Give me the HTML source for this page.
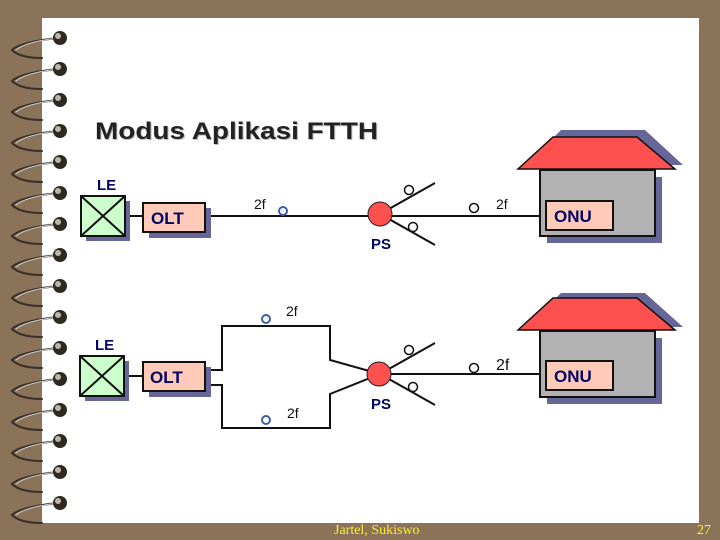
<!DOCTYPE html>
<html><head><meta charset="utf-8"><style>
body{margin:0;width:720px;height:540px;overflow:hidden;background:#8b7359;}
svg{display:block}
</style></head><body>
<svg width="720" height="540" xmlns="http://www.w3.org/2000/svg" font-family="Liberation Sans, sans-serif">
<rect x="0" y="0" width="720" height="540" fill="#8b7359"/>
<rect x="42" y="18" width="657" height="505" fill="#ffffff"/>
<g stroke-linecap="round">
<g id="r">
<path d="M58 38 Q20 42 12 50 Q20 58 42 58" fill="none" stroke="#3a3028" stroke-width="2"/>
<path d="M58 38 Q25 42 16 50" fill="none" stroke="#cfcfcf" stroke-width="1"/>
<circle cx="60" cy="38" r="7" fill="#2e2a22"/>
<circle cx="58" cy="36" r="3" fill="#bbb8a8"/>
</g>
<use href="#r" y="31"/><use href="#r" y="62"/><use href="#r" y="93"/><use href="#r" y="124"/>
<use href="#r" y="155"/><use href="#r" y="186"/><use href="#r" y="217"/><use href="#r" y="248"/>
<use href="#r" y="279"/><use href="#r" y="310"/><use href="#r" y="341"/><use href="#r" y="372"/>
<use href="#r" y="403"/><use href="#r" y="434"/><use href="#r" y="465"/>
</g>

<text x="96" y="140" font-size="24" font-weight="bold" fill="#888" opacity="0.6" textLength="283" lengthAdjust="spacingAndGlyphs">Modus Aplikasi FTTH</text>
<text x="95" y="139" font-size="24" font-weight="bold" fill="#222" textLength="283" lengthAdjust="spacingAndGlyphs">Modus Aplikasi FTTH</text>

<!-- Upper diagram -->
<g stroke="#111" stroke-width="2" fill="none">
<line x1="125" y1="216" x2="143" y2="216"/>
<line x1="205" y1="216" x2="545" y2="216"/>
<line x1="380" y1="214" x2="435" y2="183"/>
<line x1="380" y1="214" x2="435" y2="245"/>
</g>
<rect x="86" y="201" width="44" height="40" fill="#666699"/>
<rect x="81" y="196" width="44" height="40" fill="#ccffcc" stroke="#111" stroke-width="2"/>
<path d="M81 196 L125 236 M125 196 L81 236" stroke="#111" stroke-width="2"/>
<text x="97" y="190" font-size="15" font-weight="bold" fill="#000066">LE</text>
<rect x="149" y="208" width="62" height="30" fill="#666699"/>
<rect x="143" y="203" width="62" height="29" fill="#ffcbb8" stroke="#111" stroke-width="2"/>
<text x="151" y="224" font-size="17" font-weight="bold" fill="#000066">OLT</text>
<text x="254" y="209" font-size="14" fill="#111">2f</text>
<circle cx="283" cy="211" r="4" fill="#fff" stroke="#3a5fa8" stroke-width="2"/>
<circle cx="380" cy="214" r="12" fill="#ff5050" stroke="#222" stroke-width="1"/>
<circle cx="409" cy="190" r="4.5" fill="#fff" stroke="#111" stroke-width="1.5"/>
<circle cx="413" cy="227" r="4.5" fill="#fff" stroke="#111" stroke-width="1.5"/>
<circle cx="474" cy="208" r="4.5" fill="#fff" stroke="#111" stroke-width="1.5"/>
<text x="496" y="209" font-size="14" fill="#111">2f</text>
<text x="371" y="249" font-size="15" font-weight="bold" fill="#000066">PS</text>
<polygon points="561,130 645,130 683,165 526,165" fill="#666699"/>
<polygon points="553,137 637,137 675,169 518,169" fill="#ff5050" stroke="#111" stroke-width="1.5"/>
<rect x="547" y="177" width="115" height="66" fill="#666699"/>
<rect x="540" y="170" width="115" height="66" fill="#b2b2b2" stroke="#111" stroke-width="2"/>
<rect x="546" y="201" width="67" height="29" fill="#ffcbb8" stroke="#111" stroke-width="2"/>
<text x="554" y="222" font-size="17" font-weight="bold" fill="#000066">ONU</text>

<!-- Lower diagram -->
<g stroke="#111" stroke-width="2" fill="none">
<line x1="124" y1="376" x2="143" y2="376"/>
<polyline points="205,370 222,370 222,326 330,326 330,360 380,374"/>
<polyline points="205,385 222,385 222,428 330,428 330,394 380,374"/>
<line x1="380" y1="374" x2="545" y2="374"/>
<line x1="380" y1="374" x2="435" y2="343"/>
<line x1="380" y1="374" x2="435" y2="405"/>
</g>
<rect x="85" y="361" width="44" height="40" fill="#666699"/>
<rect x="80" y="356" width="44" height="40" fill="#ccffcc" stroke="#111" stroke-width="2"/>
<path d="M80 356 L124 396 M124 356 L80 396" stroke="#111" stroke-width="2"/>
<text x="95" y="350" font-size="15" font-weight="bold" fill="#000066">LE</text>
<rect x="149" y="367" width="62" height="30" fill="#666699"/>
<rect x="143" y="362" width="62" height="29" fill="#ffcbb8" stroke="#111" stroke-width="2"/>
<text x="150" y="383" font-size="17" font-weight="bold" fill="#000066">OLT</text>
<circle cx="266" cy="319" r="4" fill="#fff" stroke="#3a5fa8" stroke-width="2"/>
<text x="286" y="316" font-size="14" fill="#111">2f</text>
<circle cx="266" cy="420" r="4" fill="#fff" stroke="#3a5fa8" stroke-width="2"/>
<text x="287" y="418" font-size="14" fill="#111">2f</text>
<circle cx="379" cy="374" r="12" fill="#ff5050" stroke="#222" stroke-width="1"/>
<circle cx="409" cy="350" r="4.5" fill="#fff" stroke="#111" stroke-width="1.5"/>
<circle cx="413" cy="387" r="4.5" fill="#fff" stroke="#111" stroke-width="1.5"/>
<circle cx="474" cy="368" r="4.5" fill="#fff" stroke="#111" stroke-width="1.5"/>
<text x="496" y="370" font-size="16" fill="#111">2f</text>
<text x="371" y="409" font-size="15" font-weight="bold" fill="#000066">PS</text>
<polygon points="561,293 645,293 683,327 526,327" fill="#666699"/>
<polygon points="553,298 637,298 675,330 518,330" fill="#ff5050" stroke="#111" stroke-width="1.5"/>
<rect x="547" y="338" width="115" height="66" fill="#666699"/>
<rect x="540" y="331" width="115" height="66" fill="#b2b2b2" stroke="#111" stroke-width="2"/>
<rect x="546" y="361" width="67" height="29" fill="#ffcbb8" stroke="#111" stroke-width="2"/>
<text x="554" y="382" font-size="17" font-weight="bold" fill="#000066">ONU</text>

<text x="334" y="534" font-size="14" fill="#ffee33" font-family="Liberation Serif, serif">Jartel, Sukiswo</text>
<text x="697" y="534" font-size="14" fill="#ffee33" font-family="Liberation Serif, serif">27</text>
</svg>
</body></html>
